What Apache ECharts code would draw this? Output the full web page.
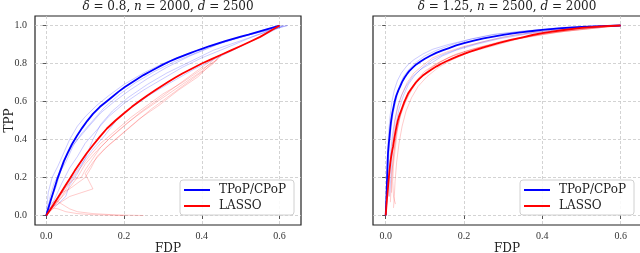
<!DOCTYPE html>
<html>
<head>
<meta charset="utf-8">
<script src="https://cdn.jsdelivr.net/npm/echarts@6/dist/echarts.min.js"></script>
<style>html,body{margin:0;padding:0;background:#fff;}#c{width:640px;height:253px;}</style>
</head>
<body>
<div id="c"></div>
<script>
// ---- Data (FDP, TPP) ----
const xTicks = [0, 0.2, 0.4, 0.6];
const yTicks = [0, 0.2, 0.4, 0.6, 0.8, 1.0];
const legendNames = ['TPoP/CPoP', 'LASSO'];

// Left panel: delta = 0.8, n = 2000, d = 2500
const tpopLeft = [[0,0],[0.005,0.035],[0.01,0.07],[0.02,0.135],[0.028,0.19],[0.036,0.235],[0.045,0.285],[0.055,0.33],[0.066,0.375],[0.079,0.42],[0.092,0.46],[0.105,0.497],[0.12,0.535],[0.138,0.572],[0.155,0.6],[0.17,0.625],[0.186,0.652],[0.202,0.676],[0.22,0.7],[0.235,0.72],[0.25,0.739],[0.267,0.758],[0.285,0.778],[0.3,0.794],[0.318,0.812],[0.335,0.827],[0.355,0.843],[0.37,0.855],[0.386,0.867],[0.402,0.878],[0.42,0.892],[0.44,0.905],[0.46,0.918],[0.48,0.93],[0.5,0.941],[0.52,0.952],[0.54,0.964],[0.56,0.976],[0.58,0.988],[0.6,1.0]];
const lassoLeft = [[0,0],[0.01,0.03],[0.02,0.062],[0.03,0.095],[0.04,0.128],[0.05,0.16],[0.06,0.192],[0.073,0.235],[0.087,0.278],[0.103,0.325],[0.12,0.37],[0.138,0.415],[0.156,0.458],[0.178,0.5],[0.2,0.538],[0.22,0.572],[0.241,0.604],[0.26,0.632],[0.28,0.659],[0.297,0.682],[0.314,0.704],[0.332,0.726],[0.35,0.747],[0.375,0.774],[0.4,0.8],[0.425,0.823],[0.45,0.846],[0.475,0.869],[0.5,0.892],[0.525,0.916],[0.55,0.94],[0.575,0.97],[0.6,1.0]];

const tpopLeftRun1 = [[0,0],[0.01,0.1],[0.02,0.17],[0.03,0.21],[0.05,0.28],[0.07,0.37],[0.09,0.43],[0.12,0.5],[0.15,0.57],[0.19,0.64],[0.23,0.7],[0.28,0.76],[0.33,0.81],[0.39,0.86],[0.45,0.91],[0.52,0.95],[0.58,0.98],[0.62,1.0]];
const tpopLeftRun2 = [[0,0],[0.02,0.08],[0.04,0.17],[0.06,0.25],[0.08,0.31],[0.1,0.38],[0.13,0.45],[0.16,0.52],[0.2,0.59],[0.25,0.66],[0.3,0.72],[0.35,0.78],[0.4,0.83],[0.46,0.88],[0.53,0.94],[0.61,1.0]];
const tpopLeftRun3 = [[0,0],[0.005,0.12],[0.015,0.2],[0.03,0.26],[0.045,0.33],[0.06,0.4],[0.08,0.47],[0.1,0.52],[0.13,0.58],[0.16,0.63],[0.2,0.69],[0.25,0.75],[0.3,0.8],[0.36,0.85],[0.42,0.89],[0.5,0.94],[0.6,1.0]];
const tpopLeftRun4 = [[0,0],[0.03,0.09],[0.05,0.15],[0.07,0.21],[0.09,0.27],[0.12,0.35],[0.15,0.42],[0.18,0.5],[0.22,0.57],[0.27,0.64],[0.32,0.7],[0.38,0.77],[0.44,0.83],[0.5,0.89],[0.56,0.95],[0.61,1.0]];
const tpopLeftRun5 = [[0,0],[0.01,0.04],[0.03,0.06],[0.05,0.1],[0.06,0.16],[0.08,0.22],[0.1,0.3],[0.12,0.4],[0.14,0.48],[0.17,0.55],[0.21,0.62],[0.26,0.69],[0.31,0.75],[0.37,0.81],[0.43,0.87],[0.5,0.92],[0.57,0.97],[0.62,1.0]];
const tpopLeftRun6 = [[0,0],[0.01,0.08],[0.025,0.15],[0.035,0.22],[0.05,0.3],[0.065,0.36],[0.085,0.41],[0.11,0.47],[0.14,0.54],[0.175,0.6],[0.215,0.66],[0.26,0.72],[0.31,0.78],[0.37,0.84],[0.44,0.9],[0.52,0.95],[0.6,0.99]];

const lassoLeftRun1 = [[0,0],[0.02,0.05],[0.05,0.12],[0.08,0.2],[0.1,0.27],[0.13,0.34],[0.16,0.4],[0.2,0.47],[0.24,0.54],[0.28,0.6],[0.32,0.66],[0.36,0.72],[0.4,0.78],[0.44,0.84]];
const lassoLeftRun2 = [[0,0],[0.03,0.06],[0.06,0.1],[0.09,0.12],[0.12,0.14],[0.11,0.18],[0.1,0.22],[0.12,0.28],[0.15,0.35],[0.19,0.42],[0.23,0.49],[0.27,0.56],[0.31,0.62],[0.35,0.68],[0.39,0.74],[0.43,0.8],[0.45,0.85]];
const lassoLeftRun3 = [[0,0],[0.03,0.08],[0.05,0.15],[0.07,0.19],[0.09,0.2],[0.1,0.24],[0.12,0.3],[0.14,0.36],[0.17,0.42],[0.21,0.49],[0.25,0.55],[0.3,0.62],[0.35,0.69],[0.4,0.76],[0.43,0.82]];
const lassoLeftRun4 = [[0,0],[0.01,0.06],[0.025,0.08],[0.04,0.06],[0.06,0.035],[0.08,0.02],[0.12,0.01],[0.18,0.003],[0.25,0.0]];
const lassoLeftRun5 = [[0,0],[0.015,0.04],[0.03,0.035],[0.05,0.02],[0.08,0.01],[0.12,0.004],[0.2,0.0]];
const lassoLeftRun6 = [[0,0],[0.04,0.1],[0.06,0.17],[0.08,0.23],[0.11,0.31],[0.14,0.38],[0.18,0.45],[0.22,0.52],[0.26,0.58],[0.3,0.64],[0.35,0.7],[0.4,0.77],[0.44,0.82]];
const lassoLeftRun7 = [[0,0],[0.02,0.07],[0.04,0.12],[0.06,0.14],[0.08,0.17],[0.1,0.2],[0.115,0.25],[0.13,0.31],[0.16,0.37],[0.2,0.44],[0.24,0.51],[0.29,0.58],[0.34,0.66],[0.39,0.73],[0.42,0.79],[0.45,0.84]];

// Right panel: delta = 1.25, n = 2500, d = 2000
const tpopRight = [[0,0],[0.001,0.05],[0.002,0.1],[0.003,0.16],[0.004,0.22],[0.005,0.28],[0.006,0.33],[0.008,0.38],[0.01,0.42],[0.012,0.465],[0.014,0.5],[0.017,0.54],[0.02,0.57],[0.023,0.6],[0.027,0.63],[0.032,0.657],[0.037,0.68],[0.042,0.703],[0.048,0.725],[0.054,0.743],[0.06,0.76],[0.069,0.778],[0.078,0.795],[0.089,0.811],[0.1,0.825],[0.114,0.841],[0.129,0.856],[0.145,0.869],[0.16,0.88],[0.18,0.895],[0.2,0.907],[0.225,0.92],[0.25,0.932],[0.275,0.942],[0.3,0.951],[0.325,0.958],[0.35,0.965],[0.375,0.971],[0.4,0.977],[0.45,0.986],[0.5,0.992],[0.55,0.997],[0.6,1.0]];
const lassoRight = [[0,0],[0.0015,0.04],[0.003,0.08],[0.0045,0.115],[0.006,0.15],[0.008,0.2],[0.01,0.242],[0.012,0.278],[0.014,0.31],[0.0165,0.34],[0.019,0.365],[0.022,0.405],[0.025,0.44],[0.028,0.472],[0.031,0.5],[0.035,0.527],[0.04,0.555],[0.044,0.578],[0.048,0.6],[0.053,0.623],[0.058,0.645],[0.064,0.663],[0.07,0.68],[0.077,0.7],[0.085,0.718],[0.094,0.735],[0.104,0.75],[0.117,0.768],[0.13,0.785],[0.142,0.799],[0.155,0.812],[0.17,0.826],[0.185,0.839],[0.2,0.851],[0.214,0.861],[0.232,0.873],[0.25,0.885],[0.27,0.897],[0.29,0.908],[0.32,0.924],[0.35,0.938],[0.375,0.95],[0.4,0.96],[0.425,0.968],[0.45,0.975],[0.5,0.987],[0.55,0.995],[0.6,1.0]];

const tpopRightRun1 = [[0.003,0.12],[0.006,0.25],[0.01,0.38],[0.014,0.47],[0.02,0.55],[0.028,0.62],[0.035,0.68],[0.045,0.73],[0.06,0.77],[0.08,0.81],[0.1,0.84],[0.13,0.87],[0.17,0.9],[0.22,0.93],[0.28,0.955],[0.35,0.97],[0.45,0.99],[0.6,1.0]];
const tpopRightRun2 = [[0.01,0.1],[0.013,0.2],[0.016,0.3],[0.02,0.4],[0.026,0.48],[0.034,0.56],[0.045,0.63],[0.058,0.69],[0.075,0.74],[0.095,0.78],[0.12,0.82],[0.15,0.85],[0.19,0.88],[0.24,0.91],[0.3,0.94],[0.38,0.965],[0.48,0.985],[0.6,1.0]];
const tpopRightRun3 = [[0.002,0.15],[0.004,0.3],[0.007,0.42],[0.011,0.52],[0.016,0.6],[0.022,0.66],[0.03,0.71],[0.04,0.75],[0.055,0.79],[0.072,0.82],[0.095,0.85],[0.12,0.875],[0.16,0.9],[0.21,0.925],[0.27,0.95],[0.35,0.97],[0.45,0.985],[0.6,1.0]];
const tpopRightRun4 = [[0.005,0.1],[0.008,0.2],[0.012,0.32],[0.017,0.42],[0.023,0.5],[0.03,0.57],[0.04,0.63],[0.052,0.68],[0.068,0.73],[0.09,0.77],[0.115,0.8],[0.145,0.84],[0.18,0.87],[0.23,0.9],[0.29,0.93],[0.36,0.955],[0.46,0.98],[0.6,1.0]];

const lassoRightRun1 = [[0.025,0.06],[0.02,0.1],[0.018,0.18],[0.02,0.27],[0.025,0.36],[0.03,0.45],[0.038,0.53],[0.05,0.6],[0.065,0.66],[0.085,0.72],[0.11,0.77],[0.14,0.81],[0.18,0.85],[0.23,0.88],[0.3,0.92],[0.38,0.95],[0.48,0.98],[0.6,1.0]];
const lassoRightRun2 = [[0.012,0.07],[0.014,0.15],[0.017,0.25],[0.022,0.35],[0.028,0.44],[0.036,0.52],[0.046,0.59],[0.06,0.65],[0.078,0.71],[0.1,0.76],[0.13,0.8],[0.17,0.84],[0.22,0.875],[0.28,0.905],[0.36,0.94],[0.46,0.97],[0.6,1.0]];
const lassoRightRun3 = [[0.008,0.1],[0.01,0.2],[0.013,0.3],[0.018,0.4],[0.024,0.5],[0.032,0.58],[0.042,0.64],[0.055,0.7],[0.072,0.75],[0.095,0.79],[0.12,0.83],[0.155,0.86],[0.2,0.89],[0.26,0.92],[0.33,0.95],[0.42,0.975],[0.6,1.0]];
const lassoRightRun4 = [[0.02,0.04],[0.022,0.1],[0.024,0.18],[0.028,0.28],[0.034,0.38],[0.042,0.47],[0.052,0.55],[0.066,0.62],[0.083,0.68],[0.105,0.73],[0.135,0.78],[0.17,0.82],[0.215,0.86],[0.27,0.89],[0.34,0.93],[0.44,0.965],[0.6,1.0]];
const lassoRightRun5 = [[0.015,0.12],[0.016,0.22],[0.02,0.32],[0.026,0.42],[0.034,0.5],[0.045,0.57],[0.058,0.63],[0.075,0.69],[0.097,0.74],[0.125,0.79],[0.16,0.83],[0.2,0.86],[0.25,0.89],[0.32,0.925],[0.4,0.955],[0.5,0.98],[0.6,1.0]];

// ---- Chart ----
const SERIF = '"DejaVu Serif", "Liberation Serif", serif';
const TICKFONT = '"Liberation Serif", "DejaVu Serif", serif';
const BLUE = '#0000ff', RED = '#ff0000';

function thin(data, color, gi) {
  return { type: 'line', data: data, xAxisIndex: gi, yAxisIndex: gi, showSymbol: false, symbol: 'none',
    lineStyle: { color: color, width: 0.8, opacity: 0.26 }, silent: true, z: 2, animation: false };
}
function main(name, data, color, gi) {
  return { name: name, type: 'line', data: data, xAxisIndex: gi, yAxisIndex: gi, showSymbol: false, symbol: 'none',
    itemStyle: { color: color }, lineStyle: { color: color, width: 1.8, join: 'round' }, z: 5, animation: false };
}
function xAx(gi, min, max) {
  return { type: 'value', gridIndex: gi, min: min, max: max, name: 'FDP', nameLocation: 'middle', nameGap: 18, nameMoveOverlap: false,
    nameTextStyle: { fontFamily: SERIF, fontSize: 12, color: '#222', verticalAlign: 'top' },
    axisLine: { show: false },
    axisTick: { show: true, inside: false, length: 3.5, customValues: xTicks, lineStyle: { color: '#333', width: 0.8 } },
    axisLabel: { customValues: xTicks, margin: 6, fontFamily: TICKFONT, fontSize: 10, color: '#333', formatter: v => v.toFixed(1) },
    splitLine: { show: true, lineStyle: { color: '#c8c8c8', width: 0.8, type: [3, 2] } } };
}
function yAx(gi, labels) {
  return { type: 'value', gridIndex: gi, min: -0.05, max: 1.05,
    name: labels ? 'TPP' : '', nameLocation: 'middle', nameGap: 25, nameRotate: 90, nameMoveOverlap: false,
    nameTextStyle: { fontFamily: SERIF, fontSize: 12, color: '#222', verticalAlign: 'middle' },
    axisLine: { show: false },
    axisTick: { show: true, inside: false, length: 3.5, customValues: yTicks, lineStyle: { color: '#333', width: 0.8 } },
    axisLabel: { show: labels, customValues: yTicks, margin: 8, fontFamily: TICKFONT, fontSize: 10, color: '#333', formatter: v => v.toFixed(1) },
    splitLine: { show: true, lineStyle: { color: '#c8c8c8', width: 0.8, type: [3, 2] } } };
}
function legendAt(left) {
  return { show: true, data: legendNames, orient: 'vertical', left: left, top: 180,
    backgroundColor: 'rgba(255,255,255,0.85)', borderColor: '#d0d0d0', borderWidth: 1, borderRadius: 3,
    padding: [4, 8, 3, 4], itemGap: 4, itemWidth: 26, itemHeight: 2, icon: 'rect',
    textStyle: { fontFamily: SERIF, fontSize: 12, color: '#222', padding: [0, 0, 0, 4] },
    selectedMode: false };
}

const chart = echarts.init(document.getElementById('c'), null, { renderer: 'canvas' });
chart.setOption({
  animation: false,
  backgroundColor: '#fff',
  grid: [
    { left: 35, top: 16, width: 266, height: 209, show: true, borderColor: '#222', borderWidth: 1.2, backgroundColor: 'transparent', containLabel: false, outerBoundsMode: 'none' },
    { left: 373, top: 16, width: 268, height: 209, show: true, borderColor: '#222', borderWidth: 1.2, backgroundColor: 'transparent', containLabel: false, outerBoundsMode: 'none' }
  ],
  xAxis: [ xAx(0, -0.029, 0.655), xAx(1, -0.0324, 0.652) ],
  yAxis: [ yAx(0, true), yAx(1, false) ],
  legend: [ legendAt(180), legendAt(520) ],
  graphic: [
    { type: 'text', x: 168, y: 1, style: { text: '{i|δ} = 0.8, {i|n} = 2000, {i|d} = 2500', align: 'center', font: '12px ' + SERIF, fill: '#222',
      rich: { i: { fontStyle: 'italic', fontFamily: SERIF, fontSize: 12, color: '#222' } } } },
    { type: 'text', x: 507, y: 1, style: { text: '{i|δ} = 1.25, {i|n} = 2500, {i|d} = 2000', align: 'center', font: '12px ' + SERIF, fill: '#222',
      rich: { i: { fontStyle: 'italic', fontFamily: SERIF, fontSize: 12, color: '#222' } } } }
  ],
  series: [
    thin(tpopLeftRun1, BLUE, 0), thin(tpopLeftRun2, BLUE, 0), thin(tpopLeftRun3, BLUE, 0), thin(tpopLeftRun4, BLUE, 0), thin(tpopLeftRun5, BLUE, 0), thin(tpopLeftRun6, BLUE, 0),
    thin(lassoLeftRun1, RED, 0), thin(lassoLeftRun2, RED, 0), thin(lassoLeftRun3, RED, 0), thin(lassoLeftRun4, RED, 0), thin(lassoLeftRun5, RED, 0), thin(lassoLeftRun6, RED, 0), thin(lassoLeftRun7, RED, 0),
    thin(tpopRightRun1, BLUE, 1), thin(tpopRightRun2, BLUE, 1), thin(tpopRightRun3, BLUE, 1), thin(tpopRightRun4, BLUE, 1),
    thin(lassoRightRun1, RED, 1), thin(lassoRightRun2, RED, 1), thin(lassoRightRun3, RED, 1), thin(lassoRightRun4, RED, 1), thin(lassoRightRun5, RED, 1),
    main(legendNames[0], tpopLeft, BLUE, 0), main(legendNames[1], lassoLeft, RED, 0),
    main(legendNames[0], tpopRight, BLUE, 1), main(legendNames[1], lassoRight, RED, 1)
  ]
});
</script>
</body>
</html>
